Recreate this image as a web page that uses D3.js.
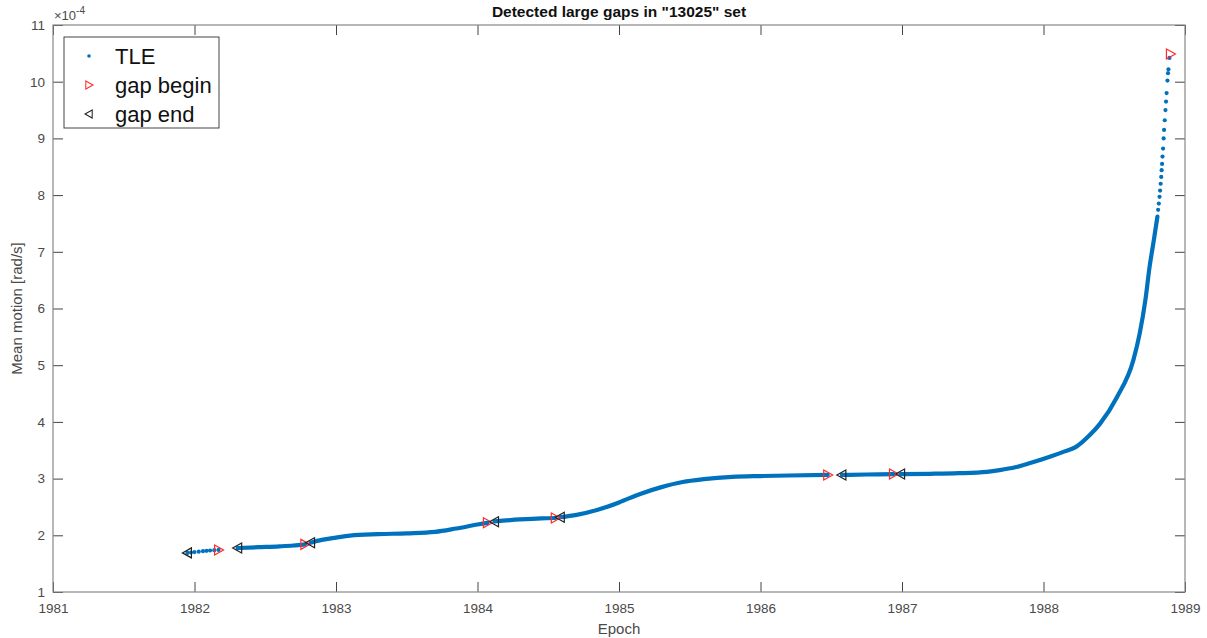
<!DOCTYPE html>
<html>
<head>
<meta charset="utf-8">
<script src="https://cdn.jsdelivr.net/npm/d3@7"></script>
<style>
  body { margin: 0; background: #fff; }
  text { font-family: "Liberation Sans", Arial, sans-serif; }
</style>
</head>
<body>
<script>
// mean motion in units of 1e-4 rad/s, epoch in decimal years
const xTicks = [1981, 1982, 1983, 1984, 1985, 1986, 1987, 1988, 1989];
const yTicks = [1, 2, 3, 4, 5, 6, 7, 8, 9, 10, 11];

// dense TLE runs between gaps
const tleRuns = [
    [[1982.305, 1.775], [1982.45, 1.79], [1982.6, 1.805], [1982.7, 1.82], [1982.78, 1.84]],
    [[1982.82, 1.87], [1982.9, 1.92], [1983.0, 1.96], [1983.1, 1.995], [1983.3, 2.02], [1983.5, 2.035],
     [1983.7, 2.06], [1983.85, 2.12], [1984.0, 2.19], [1984.07, 2.22]],
    [[1984.12, 2.245], [1984.3, 2.28], [1984.45, 2.30], [1984.55, 2.305]],
    [[1984.585, 2.32], [1984.7, 2.36], [1984.85, 2.45], [1985.0, 2.58], [1985.15, 2.73], [1985.3, 2.85],
     [1985.45, 2.94], [1985.6, 2.99], [1985.8, 3.03], [1986.0, 3.045], [1986.2, 3.055], [1986.475, 3.065]],
    [[1986.575, 3.065], [1986.75, 3.072], [1986.94, 3.08]],
    [[1986.99, 3.08], [1987.2, 3.085], [1987.4, 3.095], [1987.6, 3.12], [1987.69, 3.15], [1987.8, 3.2],
     [1987.9, 3.27], [1988.05, 3.39], [1988.15, 3.48], [1988.23, 3.56], [1988.32, 3.75], [1988.4, 3.97],
     [1988.52, 4.44], [1988.635, 5.09], [1988.68, 5.56], [1988.72, 6.15], [1988.75, 6.74],
     [1988.78, 7.21], [1988.805, 7.62]]
];

// sparse TLE points
const tleDots = [
    [1981.95, 1.69], [1981.975, 1.697], [1982.0, 1.705], [1982.03, 1.712], [1982.06, 1.72],
    [1982.085, 1.727], [1982.11, 1.732], [1982.14, 1.737], [1982.17, 1.742],
    [1988.81, 7.74], [1988.815, 7.85], [1988.82, 7.97], [1988.824, 8.08], [1988.828, 8.2],
    [1988.832, 8.32], [1988.835, 8.44], [1988.838, 8.55], [1988.841, 8.68], [1988.845, 8.82],
    [1988.849, 9.0], [1988.852, 9.15], [1988.857, 9.32], [1988.862, 9.5], [1988.866, 9.65],
    [1988.87, 9.8], [1988.876, 10.02], [1988.88, 10.15], [1988.883, 10.22], [1988.89, 10.42]
];

const gapBegin = [
    [1982.17, 1.74], [1982.78, 1.84], [1984.07, 2.22], [1984.55, 2.305],
    [1986.475, 3.065], [1986.94, 3.08], [1988.897, 10.49]
];
const gapEnd = [
    [1981.95, 1.69], [1982.305, 1.775], [1982.82, 1.87], [1984.12, 2.24],
    [1984.585, 2.32], [1986.575, 3.065], [1986.99, 3.08]
];

const legendItems = ['TLE', 'gap begin', 'gap end'];

const W = 1207, H = 638;
const plotL = 53, plotR = 1185, plotT = 25, plotB = 592;
const blue = '#0072BD';

const svg = d3.select('body').append('svg')
    .attr('width', W)
    .attr('height', H);

const x = d3.scaleLinear().domain([1981, 1989]).range([plotL, plotR]);
const y = d3.scaleLinear().domain([1, 11]).range([plotB, plotT]);

// axes with inward ticks on all four sides
const styleAxis = g => {
    g.select('.domain').remove();
    g.selectAll('.tick line').attr('stroke', '#444');
    g.selectAll('.tick text')
        .attr('fill', '#4a4a4a')
        .style('font-size', '13.5px');
};

svg.append('g')
    .attr('transform', `translate(0,${plotB})`)
    .call(d3.axisBottom(x).tickValues(xTicks).tickSize(-10).tickPadding(11).tickFormat(d3.format('d')))
    .call(styleAxis);
svg.append('g')
    .attr('transform', `translate(0,${plotT})`)
    .call(d3.axisTop(x).tickValues(xTicks).tickSize(-10).tickFormat(''))
    .call(styleAxis);
svg.append('g')
    .attr('transform', `translate(${plotL},0)`)
    .call(d3.axisLeft(y).tickValues(yTicks).tickSize(-10).tickPadding(8).tickFormat(d3.format('d')))
    .call(styleAxis);
svg.append('g')
    .attr('transform', `translate(${plotR},0)`)
    .call(d3.axisRight(y).tickValues(yTicks).tickSize(-10).tickFormat(''))
    .call(styleAxis);

svg.append('rect')
    .attr('x', plotL).attr('y', plotT)
    .attr('width', plotR - plotL).attr('height', plotB - plotT)
    .attr('fill', 'none')
    .attr('stroke', '#888')
    .attr('stroke-width', 1.2);

// TLE data
const line = d3.line()
    .x(d => x(d[0]))
    .y(d => y(d[1]))
    .curve(d3.curveMonotoneX);

svg.append('g').selectAll('path')
    .data(tleRuns)
    .join('path')
    .attr('d', line)
    .attr('fill', 'none')
    .attr('stroke', blue)
    .attr('stroke-width', 4.2)
    .attr('stroke-linecap', 'round');

svg.append('g').selectAll('circle')
    .data(tleDots)
    .join('circle')
    .attr('cx', d => x(d[0]))
    .attr('cy', d => y(d[1]))
    .attr('r', 2.1)
    .attr('fill', blue);

// gap markers
const triRight = 'M-4,-5L5,0L-4,5Z';
const triLeft = 'M4,-5L-5,0L4,5Z';

svg.append('g').selectAll('path')
    .data(gapBegin)
    .join('path')
    .attr('transform', d => `translate(${x(d[0])},${y(d[1])})`)
    .attr('d', triRight)
    .attr('fill', 'none')
    .attr('stroke', '#ff2b2b')
    .attr('stroke-width', 1.2);

svg.append('g').selectAll('path')
    .data(gapEnd)
    .join('path')
    .attr('transform', d => `translate(${x(d[0])},${y(d[1])})`)
    .attr('d', triLeft)
    .attr('fill', 'none')
    .attr('stroke', '#222')
    .attr('stroke-width', 1.2);

// legend
const legend = svg.append('g').attr('transform', 'translate(64,37)');
legend.append('rect')
    .attr('width', 155).attr('height', 91)
    .attr('fill', '#fff')
    .attr('stroke', '#444')
    .attr('stroke-width', 1);

const entry = legend.selectAll('g.entry')
    .data(legendItems)
    .join('g')
    .attr('class', 'entry')
    .attr('transform', (d, i) => `translate(0,${19 + i * 29})`);

entry.append('text')
    .attr('x', 51)
    .attr('dy', '0.35em')
    .style('font-size', '22px')
    .attr('fill', '#111')
    .text(d => d);

entry.filter((d, i) => i === 0).append('circle')
    .attr('cx', 25).attr('r', 1.8).attr('fill', blue);
entry.filter((d, i) => i === 1).append('path')
    .attr('transform', 'translate(25,0) scale(0.8)')
    .attr('d', triRight).attr('fill', 'none').attr('stroke', '#ff2b2b').attr('stroke-width', 1.3);
entry.filter((d, i) => i === 2).append('path')
    .attr('transform', 'translate(25,0) scale(0.8)')
    .attr('d', triLeft).attr('fill', 'none').attr('stroke', '#222').attr('stroke-width', 1.3);

// exponent label
const expo = svg.append('text')
    .attr('x', 54).attr('y', 20)
    .attr('fill', '#4a4a4a')
    .style('font-size', '13px');
expo.append('tspan').text('\u00d710');
expo.append('tspan').attr('dy', -6).style('font-size', '10px').text('-4');

// title and axis labels
svg.append('text')
    .attr('x', (plotL + plotR) / 2).attr('y', 17)
    .attr('text-anchor', 'middle')
    .style('font-size', '15.5px')
    .style('font-weight', 'bold')
    .attr('fill', '#111')
    .text('Detected large gaps in "13025" set');

svg.append('text')
    .attr('x', (plotL + plotR) / 2).attr('y', 634)
    .attr('text-anchor', 'middle')
    .style('font-size', '15px')
    .attr('fill', '#4a4a4a')
    .text('Epoch');

svg.append('text')
    .attr('transform', `translate(22,${(plotT + plotB) / 2}) rotate(-90)`)
    .attr('text-anchor', 'middle')
    .style('font-size', '15px')
    .attr('fill', '#4a4a4a')
    .text('Mean motion [rad/s]');
</script>
</body>
</html>
